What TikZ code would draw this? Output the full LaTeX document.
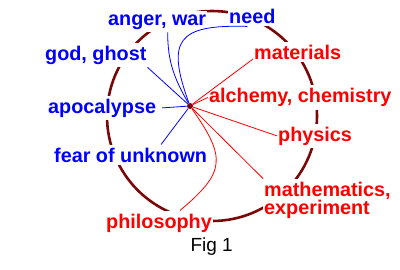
\documentclass[tikz,border=0pt]{standalone}
\usepackage{fontspec}
\setmainfont{Liberation Sans}
\usetikzlibrary{calc}
\definecolor{ringred}{RGB}{122,8,8}
\definecolor{causeblue}{RGB}{0,0,255}
\definecolor{answerred}{RGB}{255,0,0}
\tikzset{
 ring/.style={draw=ringred,line width=2.6pt},
 hub/.style={circle,fill=ringred,inner sep=0pt,minimum size=6pt},
 cause/.style={anchor=base west,fill=white,inner xsep=1pt,inner ysep=3pt,text=causeblue,font=\fontsize{19.8}{19.8}\selectfont\bfseries},
 answer/.style={cause,text=answerred,align=left},
 causeline/.style={draw=causeblue,line width=0.8pt},
 answerline/.style={draw=answerred,line width=0.8pt}}

\begin{document}
\begin{tikzpicture}[x=1pt,y=1pt]
\useasboundingbox (0,0) rectangle (400,-269);
\draw[ring] (212,-116) circle (105pt);
% causes (left half)
\node[cause] (anger) at (107,-25) {anger, war};
\node[cause] (need) at (228,-23) {need};
\node[cause] (god) at (44,-60) {god, ghost};
\node[cause] (apo) at (47,-113) {apocalypse};
\node[cause] (fear) at (53,-162) {fear of unknown};
% answers (right half)
\node[answer] (mat) at (253,-59) {materials};
\node[answer] (alch) at (208,-102.5) {alchemy, chemistry};
\node[answer] (phys) at (277,-141) {physics};
\node[answer,anchor=north west] (math) at (263,-178.5) {mathematics,\\[-1pt]experiment};
\node[answer] (philo) at (105,-228) {philosophy};
\node[anchor=base west,font=\fontsize{19}{19}\selectfont] (fig) at (187,-251) {Fig 1};
\node[hub] (ctr) at (190,-106) {};
\draw[causeline] (ctr) to[out=120,in=-90] ([xshift=10.5pt]anger.south);
\draw[causeline] (ctr) .. controls +(-24,66) and +(-70,2) .. ([xshift=-5pt]need.south);
\draw[causeline] (ctr) -- (god.south east); \draw[causeline] (ctr) -- ([xshift=5pt]apo.east);
\draw[causeline] (ctr) -- ([xshift=30.5pt]fear.north);
\draw[answerline] (ctr) -- (mat.base west); \draw[answerline] (ctr) -- (alch.west);
\draw[answerline] (ctr) -- (phys.west); \draw[answerline] (ctr) -- (math.north west);
\draw[answerline] (ctr) to[out=-55,in=40,looseness=1.5] ([xshift=21pt]philo.north);
\end{tikzpicture}
\end{document}
